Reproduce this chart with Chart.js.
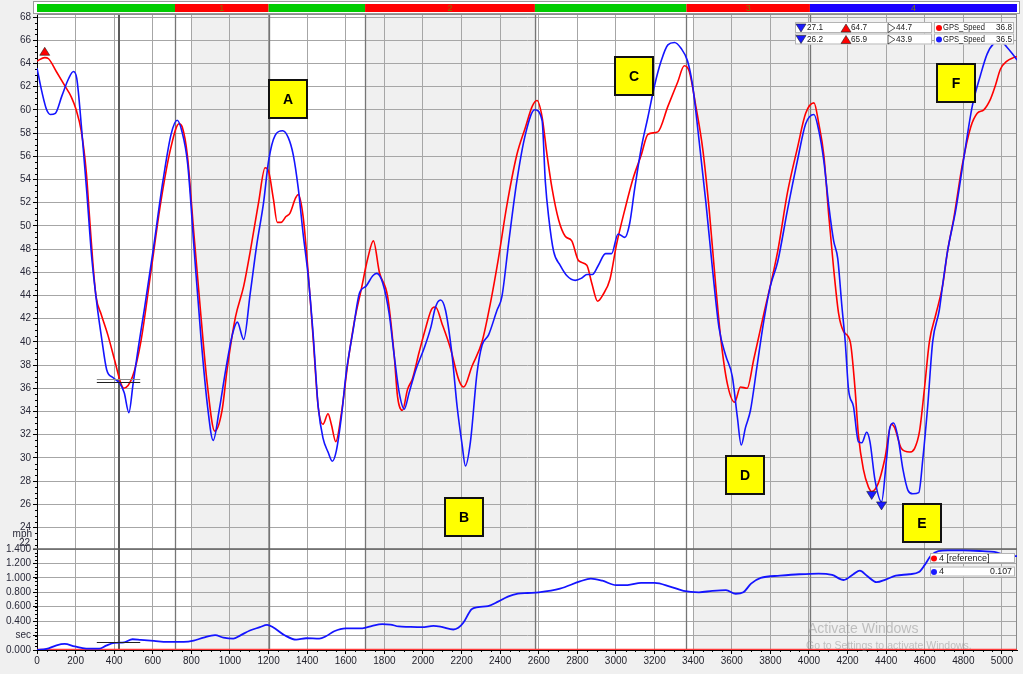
<!DOCTYPE html>
<html>
<head>
<meta charset="utf-8">
<script src="https://cdn.jsdelivr.net/npm/chart.js@4.4.0/dist/chart.umd.min.js"></script>
<style>
  html, body { margin: 0; padding: 0; background: #f0f0f0; }
  #wrap { position: relative; width: 1023px; height: 674px; }
  canvas { display: block; }
</style>
</head>
<body>
<div id="wrap"><canvas id="lapChart" width="1023" height="674"></canvas></div>
<script>
// --- DATA (distance in ft, speed in mph, delta time in sec) ---
const xMax = 5078;

const redDist = [
  0, 40, 60, 100, 143, 178, 203, 229, 255, 272,
  289, 306, 332, 367, 401, 435, 449, 495, 538, 590,
  641, 693, 736, 753, 779, 813, 847, 882, 921, 959,
  985, 1028, 1071, 1105, 1148, 1182, 1200, 1225, 1245, 1265,
  1290, 1311, 1340, 1354, 1379, 1405, 1431, 1457, 1482, 1508,
  1525, 1548, 1577, 1611, 1645, 1680, 1714, 1743, 1774, 1817,
  1851, 1868, 1894, 1920, 1945, 1980, 2014, 2048, 2065, 2100,
  2143, 2186, 2211, 2254, 2306, 2349, 2391, 2434, 2486, 2531,
  2566, 2591, 2617, 2643, 2669, 2703, 2737, 2771, 2806, 2849,
  2874, 2905, 2934, 2969, 3003, 3046, 3089, 3131, 3166, 3217,
  3269, 3320, 3354, 3380, 3414, 3449, 3483, 3517, 3543, 3577,
  3615, 3645, 3680, 3714, 3766, 3838, 3889, 3940, 3983, 4026,
  4051, 4077, 4103, 4128, 4154, 4179, 4214, 4239, 4256, 4282,
  4308, 4325, 4359, 4393, 4427, 4444, 4479, 4521, 4547, 4573,
  4598, 4624, 4658, 4692, 4718, 4752, 4795, 4838, 4872, 4906,
  4940, 4966, 4992, 5026, 5060, 5078
];
const redSpeed = [
  64.2, 64.5, 64.4, 63.3, 62.1, 61.1, 60.0, 58.2, 54.7, 50.8,
  46.9, 43.9, 42.4, 40.6, 38.5, 36.4, 36.0, 37.0, 40.0, 46.0,
  52.0, 56.7, 58.8, 58.5, 56.1, 49.3, 42.7, 36.4, 32.3, 34.1,
  37.6, 42.1, 44.8, 47.8, 52.0, 55.0, 54.7, 52.3, 50.3, 50.3,
  50.8, 51.1, 52.4, 52.7, 50.8, 46.0, 40.3, 34.4, 32.9, 33.8,
  32.9, 31.4, 33.8, 38.2, 41.8, 44.5, 47.2, 48.7, 46.0, 43.9,
  38.8, 35.3, 34.1, 35.9, 36.8, 39.1, 41.2, 42.9, 43.0, 41.5,
  39.4, 36.7, 36.1, 37.9, 40.0, 43.3, 47.2, 51.7, 56.1, 58.5,
  60.3, 60.8, 59.4, 56.1, 53.2, 50.5, 49.1, 48.7, 47.0, 46.6,
  45.1, 43.5, 44.1, 45.4, 48.4, 51.4, 54.1, 56.1, 57.9, 58.1,
  60.3, 62.4, 63.8, 63.3, 60.3, 56.7, 51.4, 44.8, 40.3, 36.4,
  34.8, 36.1, 36.0, 38.5, 42.4, 47.8, 52.9, 56.7, 59.7, 60.6,
  58.8, 56.1, 50.8, 46.3, 42.4, 40.9, 40.0, 35.9, 32.0, 29.0,
  27.5, 27.1, 27.8, 29.9, 32.9, 32.6, 30.8, 30.5, 30.8, 32.3,
  35.9, 40.0, 42.4, 44.8, 47.8, 50.8, 55.3, 58.5, 59.7, 60.0,
  60.9, 62.1, 63.5, 64.2, 64.5, 64.6
];

const blueDist = [
  0, 26, 50, 69, 95, 129, 164, 189, 206, 232,
  258, 284, 310, 335, 361, 395, 430, 452, 476, 498,
  524, 558, 601, 652, 695, 726, 750, 781, 815, 850,
  884, 913, 944, 978, 1012, 1038, 1071, 1105, 1139, 1174,
  1200, 1234, 1273, 1302, 1328, 1354, 1379, 1405, 1431, 1457,
  1482, 1508, 1530, 1551, 1577, 1602, 1637, 1671, 1705, 1740,
  1760, 1791, 1825, 1851, 1877, 1903, 1928, 1963, 2005, 2040,
  2065, 2091, 2117, 2151, 2177, 2203, 2220, 2246, 2280, 2306,
  2340, 2383, 2409, 2443, 2486, 2531, 2579, 2617, 2634, 2651,
  2677, 2711, 2746, 2789, 2823, 2849, 2878, 2909, 2946, 2977,
  3011, 3046, 3071, 3097, 3131, 3166, 3200, 3234, 3269, 3303,
  3337, 3371, 3397, 3431, 3466, 3500, 3534, 3569, 3603, 3629,
  3649, 3671, 3697, 3731, 3766, 3800, 3838, 3889, 3940, 3983,
  4026, 4051, 4077, 4103, 4128, 4149, 4171, 4188, 4205, 4231,
  4256, 4274, 4299, 4316, 4342, 4376, 4402, 4419, 4439, 4462,
  4487, 4513, 4538, 4569, 4590, 4615, 4641, 4675, 4692, 4718,
  4761, 4803, 4846, 4889, 4923, 4957, 4992, 5026, 5060, 5078
];
const blueSpeed = [
  63.6, 61.5, 60.0, 59.6, 59.7, 61.2, 62.7, 63.3, 62.7, 58.2,
  52.9, 47.2, 43.3, 40.3, 37.6, 36.9, 36.4, 35.6, 33.9, 36.4,
  39.4, 43.0, 47.8, 53.8, 57.9, 59.1, 58.2, 55.3, 47.8, 40.3,
  34.4, 31.5, 34.1, 37.6, 40.6, 41.7, 40.2, 44.2, 48.4, 52.0,
  55.6, 57.8, 58.2, 57.6, 56.1, 53.2, 49.3, 45.7, 40.6, 34.4,
  31.7, 30.5, 29.7, 30.6, 33.5, 37.3, 40.9, 44.2, 44.8, 45.7,
  45.9, 45.1, 42.4, 38.8, 35.6, 34.2, 35.6, 37.6, 39.4, 41.2,
  43.0, 43.6, 42.7, 38.8, 34.4, 31.1, 29.3, 31.4, 37.3, 39.7,
  40.6, 42.7, 43.9, 48.4, 53.8, 57.9, 60.0, 59.1, 53.8, 50.8,
  47.8, 46.6, 45.7, 45.3, 45.5, 45.8, 45.8, 46.6, 47.6, 47.6,
  49.3, 49.0, 50.2, 53.2, 56.7, 59.4, 62.1, 64.2, 65.6, 65.8,
  65.3, 64.2, 62.1, 57.3, 52.0, 46.3, 41.2, 38.8, 37.0, 33.5,
  31.1, 32.6, 34.1, 37.9, 41.8, 44.8, 46.9, 51.4, 55.6, 58.8,
  59.6, 58.2, 55.6, 51.7, 48.7, 47.2, 43.0, 40.0, 35.9, 34.4,
  31.4, 31.3, 32.2, 31.4, 28.1, 26.2, 29.9, 32.6, 33.0, 31.7,
  29.0, 27.2, 26.9, 27.0, 29.9, 34.4, 40.0, 42.7, 44.8, 47.8,
  51.4, 55.9, 60.3, 63.0, 64.8, 65.7, 65.9, 65.4, 64.7, 64.3
];

const deltaDist = [
  0, 49, 101, 143, 195, 255, 323, 358, 400, 452,
  495, 538, 606, 675, 760, 812, 863, 923, 966, 1017,
  1052, 1103, 1155, 1192, 1223, 1283, 1343, 1395, 1463, 1497,
  1540, 1600, 1686, 1737, 1789, 1831, 1874, 1926, 1995, 2054,
  2097, 2157, 2183, 2209, 2251, 2286, 2337, 2389, 2440, 2492,
  2543, 2600, 2710, 2813, 2870, 2930, 3000, 3060, 3130, 3200,
  3280, 3350, 3430, 3500, 3570, 3620, 3660, 3700, 3750, 3850,
  3950, 4050, 4120, 4180, 4230, 4264, 4300, 4350, 4400, 4450,
  4520, 4570, 4600, 4630, 4670, 4720, 4800, 4900, 4960, 5000,
  5040, 5078
];
const deltaTime = [
  0, 0.014, 0.065, 0.084, 0.05, 0.02, 0.02, 0.06, 0.098, 0.107,
  0.149, 0.14, 0.126, 0.112, 0.112, 0.13, 0.172, 0.205, 0.172, 0.158,
  0.2, 0.27, 0.316, 0.349, 0.316, 0.205, 0.144, 0.163, 0.158, 0.19,
  0.26, 0.3, 0.3, 0.335, 0.358, 0.353, 0.326, 0.32, 0.316, 0.335,
  0.32, 0.284, 0.307, 0.377, 0.563, 0.595, 0.609, 0.67, 0.74, 0.78,
  0.79, 0.80, 0.85, 0.95, 0.99, 0.96, 0.90, 0.90, 0.93, 0.93,
  0.88, 0.82, 0.80, 0.82, 0.83, 0.78, 0.80, 0.92, 1.0, 1.03,
  1.05, 1.06, 1.04, 0.97, 1.05, 1.10, 1.03, 0.94, 0.98, 1.03,
  1.05, 1.08, 1.18, 1.30, 1.37, 1.38, 1.38, 1.37, 1.36, 1.33,
  1.30, 1.30
];
const refDist = [0, 5078];
const refTime = [0, 0];

// tick labels
const distTicks = [0, 200, 400, 600, 800, 1000, 1200, 1400, 1600, 1800, 2000, 2200, 2400,
  2600, 2800, 3000, 3200, 3400, 3600, 3800, 4000, 4200, 4400, 4600, 4800, 5000];
const speedTicks = [24, 26, 28, 30, 32, 34, 36, 38, 40, 42, 44, 46, 48, 50, 52, 54, 56, 58,
  60, 62, 64, 66, 68];
const timeTicks = [0, 0.2, 0.4, 0.6, 0.8, 1.0, 1.2, 1.4];

// lap segments (status bar) and shaded zones
const lapDist = [0, 715, 1200, 1700, 2580, 3365, 4005, 5078];
const lapColor = ['#00cc00', '#ff0000', '#00cc00', '#ff0000', '#00cc00', '#ff0000', '#1a00ff'];
const lapLabel = ['', '1', '', '2', '', '3', '4'];
const shadeFrom = [800, 1700, 3400];
const shadeTo = [1200, 2590, 5078];

// min / max markers
const maxDist = [40, 4992];
const maxSpeed = [64.7, 65.9];
const minDist = [4325, 4376];
const minSpeed = [27.1, 26.2];

// cursor
const cursorDist = 425;
const cursorSpeed = [36.8, 36.5];
const cursorDelta = 0.107;

// letter call-outs
const noteLetter = ['A', 'B', 'C', 'D', 'E', 'F'];
const noteDist = [1300, 2212, 3091, 3671, 4585, 4764];
const noteSpeed = [60.9, 24.9, 62.9, 28.5, 24.4, 62.3];

const FONT = "'Liberation Sans', Arial, sans-serif";
Chart.defaults.font.family = FONT;

const pts = (xs, ys) => xs.map((x, i) => ({ x, y: ys[i] }));

function tri(ctx, cx, yBase, up, fill) {
  ctx.beginPath();
  if (up) {
    ctx.moveTo(cx - 5, yBase); ctx.lineTo(cx + 5, yBase); ctx.lineTo(cx, yBase - 8);
  } else {
    ctx.moveTo(cx - 5, yBase); ctx.lineTo(cx + 5, yBase); ctx.lineTo(cx, yBase + 8);
  }
  ctx.closePath();
  ctx.fillStyle = fill; ctx.fill();
  ctx.strokeStyle = '#202020'; ctx.lineWidth = 0.6; ctx.stroke();
}

function seg(ctx, x0, y0, x1, y1) {
  ctx.beginPath(); ctx.moveTo(x0, y0); ctx.lineTo(x1, y1); ctx.stroke();
}

function boxAt(ctx, x, y, w, h) {
  ctx.fillStyle = '#ffffff'; ctx.fillRect(x, y, w, h);
  ctx.strokeStyle = '#b4b4b4'; ctx.lineWidth = 1;
  ctx.strokeRect(x + 0.5, y + 0.5, w - 1, h - 1);
}

const decor = {
  id: 'decor',
  beforeDraw(chart) {
    const { ctx, chartArea: a, scales: { x } } = chart;
    ctx.save();
    ctx.fillStyle = '#f0f0f0';
    ctx.fillRect(0, 0, chart.width, chart.height);
    ctx.fillStyle = '#ffffff';
    ctx.fillRect(a.left, a.top, a.right - a.left, a.bottom - a.top);
    ctx.fillStyle = '#f0f0f0';
    shadeFrom.forEach((s, i) => {
      const x0 = x.getPixelForValue(s), x1 = x.getPixelForValue(shadeTo[i]);
      ctx.fillRect(x0, a.top, x1 - x0, a.bottom - a.top);
    });
    ctx.restore();
  },
  beforeDatasetsDraw(chart) {
    const { ctx, chartArea: a, scales: { x, y } } = chart;
    ctx.save();
    // lap boundaries
    ctx.strokeStyle = '#767676'; ctx.lineWidth = 1.3;
    lapDist.slice(1, -1).forEach(d => {
      const p = Math.round(x.getPixelForValue(d)) + 0.5;
      seg(ctx, p, a.top, p, a.bottom);
    });
    // cursor line
    ctx.strokeStyle = '#5c5c5c'; ctx.lineWidth = 2;
    const cp = Math.round(x.getPixelForValue(cursorDist));
    seg(ctx, cp, a.top, cp, a.bottom);
    // frame
    ctx.strokeStyle = '#8a8a8a'; ctx.lineWidth = 1;
    seg(ctx, a.left, a.top + 0.5, a.right, a.top + 0.5);
    seg(ctx, a.right - 0.5, a.top, a.right - 0.5, a.bottom);
    // panel separator
    ctx.strokeStyle = '#606060'; ctx.lineWidth = 1.6;
    seg(ctx, a.left - 4, y.bottom, a.right, y.bottom);
    ctx.restore();
  },
  afterDraw(chart) {
    const { ctx, chartArea: a, scales: { x, y, y2 } } = chart;
    ctx.save();

    // minor ticks
    ctx.strokeStyle = '#000'; ctx.lineWidth = 1;
    for (let v = 22.5; v < 68.2; v += 0.5) {
      if (Math.abs(v % 2) < 1e-6) continue;
      const p = Math.round(y.getPixelForValue(v)) + 0.5;
      seg(ctx, a.left - 2, p, a.left, p);
    }
    for (let v = 0.05; v < 1.4; v += 0.05) {
      const p = Math.round(y2.getPixelForValue(v)) + 0.5;
      seg(ctx, a.left - 2, p, a.left, p);
    }
    for (let v = 50; v < xMax; v += 50) {
      if (v % 200 === 0) continue;
      const p = Math.round(x.getPixelForValue(v)) + 0.5;
      seg(ctx, p, a.bottom, p, a.bottom + 2);
    }

    // unit label and clipped 22 tick
    ctx.fillStyle = '#2a2a3a'; ctx.font = '10px ' + FONT;
    ctx.textAlign = 'right'; ctx.textBaseline = 'middle';
    ctx.fillText('mph', a.left - 5, y.bottom - 15);
    ctx.fillText('22', a.left - 7, y.bottom - 6);

    // cursor value marks
    const xl = x.getPixelForValue(cursorDist - 115), xr = x.getPixelForValue(cursorDist + 110);
    ctx.lineWidth = 1;
    ctx.strokeStyle = '#8a8a8a';
    let p = Math.round(y.getPixelForValue(cursorSpeed[0])) + 0.5;
    seg(ctx, xl, p, xr, p);
    ctx.strokeStyle = '#202020';
    p = Math.round(y.getPixelForValue(cursorSpeed[1])) + 0.5;
    seg(ctx, xl, p, xr, p);
    p = Math.round(y2.getPixelForValue(cursorDelta)) + 0.5;
    seg(ctx, xl, p, xr, p);

    // min / max markers
    maxDist.forEach((d, i) => tri(ctx, x.getPixelForValue(d), y.getPixelForValue(maxSpeed[i]), true, '#ff0000'));
    minDist.forEach((d, i) => tri(ctx, x.getPixelForValue(d), y.getPixelForValue(minSpeed[i]), false, '#1a1aff'));

    // letter call-outs
    noteLetter.forEach((t, i) => {
      const cx = Math.round(x.getPixelForValue(noteDist[i])), cy = Math.round(y.getPixelForValue(noteSpeed[i]));
      ctx.fillStyle = '#ffff00'; ctx.fillRect(cx - 20, cy - 20, 40, 40);
      ctx.strokeStyle = '#111'; ctx.lineWidth = 2; ctx.strokeRect(cx - 19, cy - 19, 38, 38);
      ctx.fillStyle = '#000'; ctx.font = 'bold 14px ' + FONT;
      ctx.textAlign = 'center'; ctx.textBaseline = 'middle';
      ctx.fillText(t, cx, cy + 1);
    });

    // status bar
    ctx.fillStyle = '#ffffff'; ctx.fillRect(34, 2, 986, 12);
    ctx.strokeStyle = '#9a9a9a'; ctx.lineWidth = 1; ctx.strokeRect(33.5, 1.5, 986, 12);
    lapColor.forEach((c, i) => {
      const x0 = x.getPixelForValue(lapDist[i]), x1 = x.getPixelForValue(lapDist[i + 1]);
      ctx.fillStyle = c; ctx.fillRect(x0, 4, x1 - x0, 8);
      if (lapLabel[i]) {
        ctx.fillStyle = '#7a8000'; ctx.font = '9px ' + FONT;
        ctx.textAlign = 'center'; ctx.textBaseline = 'middle';
        ctx.fillText(lapLabel[i], (x0 + x1) / 2, 8.5);
      }
    });

    // stats / value boxes (top panel)
    ctx.font = '9px ' + FONT; ctx.textBaseline = 'middle';
    const stats = [['27.1', '64.7', '44.7', '36.8', '#ff0000'], ['26.2', '65.9', '43.9', '36.5', '#1a1aff']];
    stats.forEach((r, i) => {
      const top = 22 + i * 11.5;
      boxAt(ctx, 795, top, 137, 11);
      boxAt(ctx, 934, top, 80, 11);
      const mid = top + 6;
      tri(ctx, 801, mid - 4, false, '#1a1aff');
      tri(ctx, 846, mid + 4, true, '#ff0000');
      ctx.beginPath(); ctx.moveTo(888, mid - 4.5); ctx.lineTo(895, mid); ctx.lineTo(888, mid + 4.5); ctx.closePath();
      ctx.strokeStyle = '#333'; ctx.lineWidth = 0.8; ctx.stroke();
      ctx.fillStyle = '#1a1a1a'; ctx.textAlign = 'left';
      ctx.fillText(r[0], 807, mid, 16);
      ctx.fillText(r[1], 851, mid, 16);
      ctx.fillText(r[2], 896, mid, 16);
      ctx.fillText('GPS_Speed', 943, mid, 42);
      ctx.textAlign = 'right'; ctx.fillText(r[3], 1012, mid, 16);
      ctx.fillStyle = r[4]; ctx.beginPath(); ctx.arc(939, mid, 3, 0, Math.PI * 2); ctx.fill();
    });

    // value boxes (bottom panel)
    const rows = [['4 [reference]', '', '#ff0000'], ['4', '0.107', '#1a1aff']];
    rows.forEach((r, i) => {
      const top = 553 + i * 13.5;
      boxAt(ctx, 930, top, 85, 10);
      const mid = top + 5.5;
      ctx.fillStyle = r[2]; ctx.beginPath(); ctx.arc(934, mid, 3, 0, Math.PI * 2); ctx.fill();
      ctx.fillStyle = '#1a1a1a'; ctx.textAlign = 'left'; ctx.fillText(r[0], 939, mid, 56);
      ctx.textAlign = 'right'; ctx.fillText(r[1], 1012, mid, 22);
    });

    // windows watermark
    ctx.fillStyle = 'rgba(150,150,150,0.55)'; ctx.textAlign = 'left'; ctx.textBaseline = 'alphabetic';
    ctx.font = '14px ' + FONT; ctx.fillText('Activate Windows', 808, 633);
    ctx.font = '10.5px ' + FONT; ctx.fillText('Go to Settings to activate Windows.', 806, 649);

    ctx.restore();
  }
};

const gridColor = '#a6a6a6';
const tickFont = { size: 10, family: FONT };

new Chart(document.getElementById('lapChart'), {
  type: 'line',
  data: {
    datasets: [
      { label: 'GPS_Speed', data: pts(blueDist, blueSpeed), yAxisID: 'y', borderColor: '#1414ff',
        borderWidth: 1.6, pointRadius: 0, cubicInterpolationMode: 'monotone' },
      { label: 'GPS_Speed [reference]', data: pts(redDist, redSpeed), yAxisID: 'y', borderColor: '#ff0000',
        borderWidth: 1.6, pointRadius: 0, cubicInterpolationMode: 'monotone' },
      { label: '4', data: pts(deltaDist, deltaTime), yAxisID: 'y2', borderColor: '#1414ff',
        borderWidth: 1.8, pointRadius: 0, cubicInterpolationMode: 'monotone' },
      { label: '4 [reference]', data: pts(refDist, refTime), yAxisID: 'y2', borderColor: '#ff3a3a',
        borderWidth: 2.5, pointRadius: 0 }
    ]
  },
  options: {
    responsive: false,
    animation: false,
    devicePixelRatio: 1,
    layout: { padding: { top: 14, right: 6, left: 0, bottom: 0 } },
    plugins: { legend: { display: false }, tooltip: { enabled: false } },
    scales: {
      x: {
        type: 'linear', min: 0, max: xMax, position: 'bottom',
        afterBuildTicks: s => { s.ticks = distTicks.map(v => ({ value: v })); },
        afterFit: s => { s.height = 24; },
        ticks: { font: tickFont, color: '#1e1e28', maxRotation: 0, autoSkip: false, padding: 1,
          callback: v => String(v) },
        grid: { color: gridColor, lineWidth: 1, tickLength: 4, tickColor: '#000' },
        border: { display: true, color: '#000' }
      },
      y: {
        type: 'linear', position: 'left', stack: 'v', stackWeight: 535, weight: 2,
        min: 22.14, max: 68.26,
        afterBuildTicks: s => { s.ticks = speedTicks.map(v => ({ value: v })); },
        afterFit: s => { s.width = 37; },
        ticks: { font: tickFont, color: '#2a2a3a', padding: 2, autoSkip: false, callback: v => String(v) },
        grid: { color: gridColor, lineWidth: 1, tickLength: 4, tickColor: '#000' },
        border: { display: true, color: '#000' }
      },
      y2: {
        type: 'linear', position: 'left', stack: 'v', stackWeight: 101, weight: 1,
        min: 0, max: 1.4,
        afterBuildTicks: s => { s.ticks = timeTicks.map(v => ({ value: v })); },
        afterFit: s => { s.width = 37; },
        ticks: {
          font: tickFont, color: '#2a2a3a', padding: 2, autoSkip: false,
          callback: v => (Math.abs(v - 0.2) < 1e-6 ? 'sec' : v.toFixed(3))
        },
        grid: { color: gridColor, lineWidth: 1, tickLength: 4, tickColor: '#000' },
        border: { display: true, color: '#000' }
      }
    }
  },
  plugins: [decor]
});
</script>
</body>
</html>
